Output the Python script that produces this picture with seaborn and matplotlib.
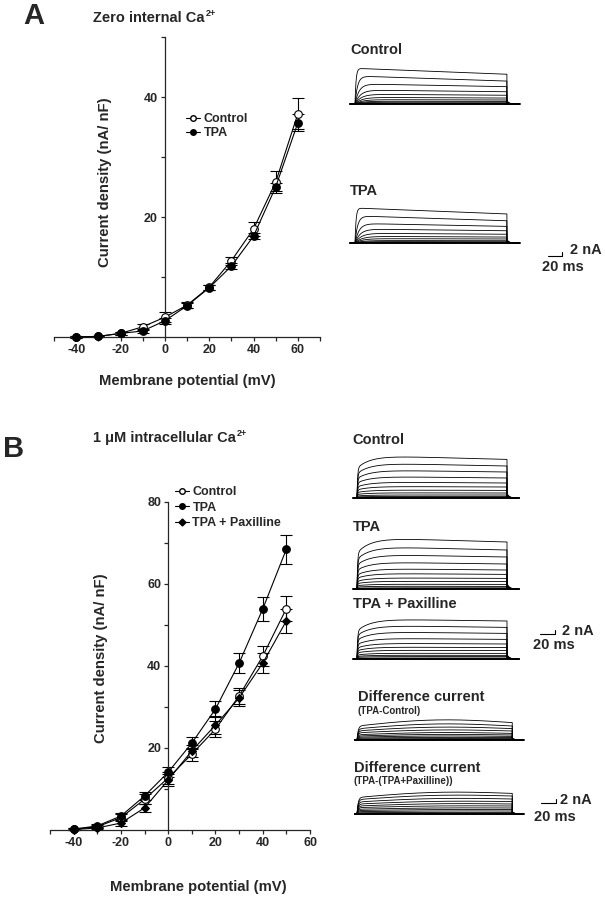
import numpy as np
import pandas as pd
import seaborn as sns
import matplotlib.pyplot as plt
from matplotlib.lines import Line2D

# ---- I-V data (current density, nA/nF) ----
volt_A = [-40, -30, -20, -10, 0, 10, 20, 30, 40, 50, 60]
ctrl_A = [0.0, 0.1, 0.6, 1.7, 3.3, 5.3, 8.3, 12.7, 18.0, 25.8, 37.2]
ctrl_A_err = [0.1, 0.1, 0.2, 0.5, 0.8, 0.5, 0.4, 0.7, 1.2, 1.8, 2.6]
tpa_A = [0.0, 0.1, 0.6, 1.0, 2.7, 5.2, 8.2, 11.8, 16.8, 25.0, 35.7]
tpa_A_err = [0.1, 0.1, 0.2, 0.4, 0.5, 0.4, 0.4, 0.5, 0.5, 0.6, 1.4]

volt_B = [-40, -30, -20, -10, 0, 10, 20, 30, 40, 50]
ctrl_B = [0.2, 0.8, 3.0, 7.5, 12.7, 18.5, 24.6, 32.7, 42.4, 54.0]
ctrl_B_err = [0.2, 0.4, 0.8, 1.2, 1.5, 1.6, 2.0, 2.0, 2.5, 3.0]
tpa_B = [0.2, 1.0, 3.4, 8.3, 14.1, 21.2, 29.5, 40.7, 53.9, 68.5]
tpa_B_err = [0.2, 0.4, 0.8, 1.0, 1.2, 1.4, 2.0, 2.5, 3.0, 3.5]
pax_B = [0.1, 0.5, 1.7, 5.4, 12.2, 19.3, 25.6, 32.2, 40.7, 51.0]
pax_B_err = [0.1, 0.3, 0.7, 1.0, 1.5, 1.5, 2.2, 2.0, 2.5, 3.0]

# ---- current traces: peak / end-of-pulse amplitude per step (nA) ----
A_ctrl_peak = [20.4, 16.0, 11.5, 8.0, 5.6, 3.8, 2.5, 1.6, 1.0, 0.4]
A_ctrl_end = [17.0, 13.1, 9.9, 7.0, 5.0, 3.4, 2.3, 1.5, 1.0, 0.4]
A_tpa_peak = [20.0, 15.5, 11.2, 8.0, 5.6, 3.8, 2.5, 1.4, 0.8, 0.4]
A_tpa_end = [16.6, 12.7, 9.5, 7.0, 5.0, 3.4, 2.3, 1.3, 0.7, 0.4]
B_ctrl_peak = [21.3, 17.5, 14.0, 10.8, 8.0, 5.8, 4.0, 2.6, 1.5, 0.8, 0.3]
B_ctrl_end = [19.3, 16.0, 13.0, 10.0, 7.5, 5.5, 3.8, 2.5, 1.5, 0.8, 0.3]
B_tpa_peak = [25.7, 21.3, 17.3, 13.5, 10.2, 7.8, 5.6, 3.9, 2.4, 1.4, 0.6]
B_tpa_end = [23.5, 19.5, 16.0, 12.5, 9.5, 7.3, 5.3, 3.7, 2.3, 1.3, 0.6]
B_pax_peak = [20.0, 16.8, 13.6, 10.4, 7.9, 6.0, 4.4, 2.9, 1.9, 1.2, 0.5]
B_pax_end = [19.0, 15.8, 12.8, 9.8, 7.5, 5.7, 4.2, 2.8, 1.8, 1.2, 0.5]
D1_peak = [10.0, 8.0, 6.4, 5.0, 3.7, 2.8, 2.0, 1.3, 0.7, 0.3]
D1_end = [8.7, 7.0, 5.7, 4.5, 3.3, 2.5, 1.8, 1.2, 0.7, 0.3]
D2_peak = [10.8, 9.3, 7.7, 6.3, 5.1, 4.0, 3.0, 2.2, 1.5, 0.8, 0.3]
D2_end = [10.3, 9.0, 7.5, 6.2, 5.0, 4.0, 3.0, 2.2, 1.5, 0.8, 0.3]

sns.set_style("ticks")
plt.rcParams['font.family'] = ['Liberation Sans', 'DejaVu Sans']
plt.rcParams['font.weight'] = 'bold'
plt.rcParams['axes.unicode_minus'] = False

W, H = 605, 899
fig = plt.figure(figsize=(W / 100, H / 100), dpi=100)
renderer = fig.canvas.get_renderer()


def px_axes(l, t, r, b):
    return fig.add_axes([l / W, 1 - b / H, (r - l) / W, (b - t) / H])


def ftext(x, y, s, **kw):
    return fig.text(x / W, 1 - y / H, s, **kw)


def title_ca(x, y, s):
    # title ending in "Ca" with a small 2+ superscript
    t = ftext(x, y, s, fontsize=10.5, fontweight='bold', va='baseline')
    bb = t.get_window_extent(renderer)
    fig.text((bb.x1 + 1) / W, 1 - (y - 6) / H, '2+', fontsize=6.5,
             fontweight='bold', va='baseline')


def iv_axes(box, xlim, ylim, yt, ytm, xtm):
    ax = px_axes(*box)
    ax.set_xlim(*xlim)
    ax.set_ylim(*ylim)
    sns.despine(ax=ax)
    ax.spines['left'].set_position(('data', 0))
    for s in ['left', 'bottom']:
        ax.spines[s].set_linewidth(0.9)
    ax.set_xticks([-40, -20, 0, 20, 40, 60])
    ax.set_xticks(xtm, minor=True)
    ax.set_yticks(yt)
    ax.set_yticks(ytm, minor=True)
    ax.tick_params(which='both', direction='out', length=3, width=0.9,
                   labelsize=9, pad=2)
    for lab in ax.get_xticklabels() + ax.get_yticklabels():
        lab.set_fontweight('bold')
    ax.set_xlabel('')
    ax.set_ylabel('')
    return ax


def series(ax, v, i, err, marker, mfc, ms):
    ax.errorbar(v, i, yerr=err, fmt='none', ecolor='k', elinewidth=0.8,
                capsize=4, capthick=0.8, zorder=2, clip_on=False)
    sns.lineplot(x=v, y=i, ax=ax, color='k', lw=0.8, marker=marker, ms=ms,
                 mfc=mfc, mec='k', mew=0.8, zorder=3, clip_on=False,
                 errorbar=None)


def draw_traces(ax, peaks, ends, T, kind, pre, post):
    t = np.linspace(0, T, 700)
    pmax = max(peaks)
    for p, e in zip(peaks, ends):
        if kind == 'fast':
            tau = 1.5 + 10 * (1 - p / pmax)
            y = (1 - np.exp(-t / tau)) * (p + (e - p) * t / T)
        elif kind == 'slow':
            y = (1 - np.exp(-t / 0.8)) * (1 - 0.3 * np.exp(-t / 18)) * \
                (p + (e - p) * t / T)
        else:
            y = (1 - np.exp(-t / 1.5)) * (0.8 * e + 0.2 * e * t / T +
                                          (p - 0.9 * e) * np.sin(np.pi * t / T))
        t2 = T + np.linspace(0, post, 40)
        y2 = 0.12 * e * np.exp(-(t2 - T) / 3)
        xs = np.concatenate([[-pre, 0], t, [T], t2])
        ys = np.concatenate([[0, 0], y, [y2[0]], y2])
        ax.plot(xs, ys, color='k', lw=0.6)
    ax.plot([-pre, T + post], [0, 0], color='k', lw=1.4)


def trace_axes(onset, base, pxms, pxna, t0=-10, t1=330, i0=-18, i1=30):
    ax = px_axes(onset + t0 * pxms, base - i1 * pxna,
                 onset + t1 * pxms, base - i0 * pxna)
    ax.set_xlim(t0, t1)
    ax.set_ylim(i0, i1)
    ax.axis('off')
    return ax


def scale_bar(ax, x, y, tx, ty, sx, sy):
    ax.plot([x, x + 20, x + 20], [y, y, y + 2], color='k', lw=0.8,
            clip_on=False)
    ax.text(tx, ty, '2 nA', fontsize=10.5, fontweight='bold', va='center',
            ha='left')
    ax.text(sx, sy, '20 ms', fontsize=10.5, fontweight='bold', va='center',
            ha='left')


# ================= Panel A =================
ftext(23, 24, 'A', fontsize=21, fontweight='bold', va='baseline')
title_ca(93, 22, 'Zero internal Ca')

axA = iv_axes((54, 37, 320, 337), (-50, 70), (0, 50), [20, 40],
              [10, 30, 50], [-50, -30, -10, 10, 30, 50, 70])
series(axA, volt_A, ctrl_A, ctrl_A_err, 'o', 'white', 5.5)
series(axA, volt_A, tpa_A, tpa_A_err, 'o', 'black', 5.5)
hA = [Line2D([], [], color='k', lw=0.8, marker='o', ms=4, mfc='white', mec='k'),
      Line2D([], [], color='k', lw=0.8, marker='o', ms=4, mfc='black', mec='k')]
axA.legend(hA, ['Control', 'TPA'], loc='upper left',
           bbox_to_anchor=(186 / W, 1 - 113 / H), bbox_transform=fig.transFigure,
           frameon=False, handlelength=1.1, handletextpad=0.3,
           labelspacing=0.15, borderpad=0, borderaxespad=0,
           prop={'weight': 'bold', 'size': 9})
ftext(187, 381, 'Membrane potential (mV)', fontsize=10.7, fontweight='bold',
      ha='center', va='center')
ftext(105, 182, 'Current density (nA/ nF)', fontsize=10.7, fontweight='bold',
      ha='center', va='center', rotation=90)

ftext(350, 54, 'Control', fontsize=10.5, fontweight='bold', va='baseline')
ftext(350, 195, 'TPA', fontsize=10.5, fontweight='bold', va='baseline')
tA1 = trace_axes(355, 104, 0.7, 1.75)
draw_traces(tA1, A_ctrl_peak, A_ctrl_end, 217, 'fast', 7, 18)
tA2 = trace_axes(355, 243, 0.7, 1.75)
draw_traces(tA2, A_tpa_peak, A_tpa_end, 217, 'fast', 7, 18)
scale_bar(tA2, 276, -7.4, 307, -4.0, 267, -13.7)

# ================= Panel B =================
ftext(3, 457, 'B', fontsize=21, fontweight='bold', va='baseline')
title_ca(93, 442, '1 \u03bcM intracellular Ca')

axB = iv_axes((50, 502, 310, 830), (-50, 60), (0, 80), [20, 40, 60, 80],
              [10, 30, 50, 70], [-50, -30, -10, 10, 30, 50])
series(axB, volt_B, ctrl_B, ctrl_B_err, 'o', 'white', 5.5)
series(axB, volt_B, pax_B, pax_B_err, 'D', 'black', 4.5)
series(axB, volt_B, tpa_B, tpa_B_err, 'o', 'black', 5.5)
hB = [Line2D([], [], color='k', lw=0.8, marker='o', ms=4, mfc='white', mec='k'),
      Line2D([], [], color='k', lw=0.8, marker='o', ms=4, mfc='black', mec='k'),
      Line2D([], [], color='k', lw=0.8, marker='D', ms=3.5, mfc='black', mec='k')]
axB.legend(hB, ['Control', 'TPA', 'TPA + Paxilline'], loc='upper left',
           bbox_to_anchor=(175 / W, 1 - 486 / H), bbox_transform=fig.transFigure,
           frameon=False, handlelength=1.1, handletextpad=0.3,
           labelspacing=0.3, borderpad=0, borderaxespad=0,
           prop={'weight': 'bold', 'size': 9})
ftext(198, 887, 'Membrane potential (mV)', fontsize=10.7, fontweight='bold',
      ha='center', va='center')
ftext(101, 658, 'Current density (nA/ nF)', fontsize=10.7, fontweight='bold',
      ha='center', va='center', rotation=90)

ftext(352, 444, 'Control', fontsize=10.5, fontweight='bold', va='baseline')
ftext(353, 531, 'TPA', fontsize=10.5, fontweight='bold', va='baseline')
ftext(353, 608, 'TPA + Paxilline', fontsize=10.5, fontweight='bold',
      va='baseline')
ftext(358, 701, 'Difference current', fontsize=10.5, fontweight='bold',
      va='baseline')
ftext(358, 714, '(TPA-Control)', fontsize=7, fontweight='bold', va='baseline')
ftext(354, 772, 'Difference current', fontsize=10.5, fontweight='bold',
      va='baseline')
ftext(354, 784, '(TPA-(TPA+Paxilline))', fontsize=7, fontweight='bold',
      va='baseline')

tB1 = trace_axes(357, 498, 0.75, 2.0)
draw_traces(tB1, B_ctrl_peak, B_ctrl_end, 200, 'slow', 5, 16)
tB2 = trace_axes(357, 589, 0.75, 2.0)
draw_traces(tB2, B_tpa_peak, B_tpa_end, 200, 'slow', 5, 16)
tB3 = trace_axes(357, 659, 0.75, 2.0)
draw_traces(tB3, B_pax_peak, B_pax_end, 200, 'slow', 5, 16)
scale_bar(tB3, 244, 12.5, 273, 14.0, 235, 7.0)
tB4 = trace_axes(357, 740, 0.75, 2.0)
draw_traces(tB4, D1_peak, D1_end, 207, 'hump', 3, 15)
tB5 = trace_axes(357, 814, 0.75, 2.0)
draw_traces(tB5, D2_peak, D2_end, 207, 'hump', 3, 15)
scale_bar(tB5, 245, 5.5, 271, 7.0, 236, -1.5)

fig.savefig('out.png', dpi=100)
